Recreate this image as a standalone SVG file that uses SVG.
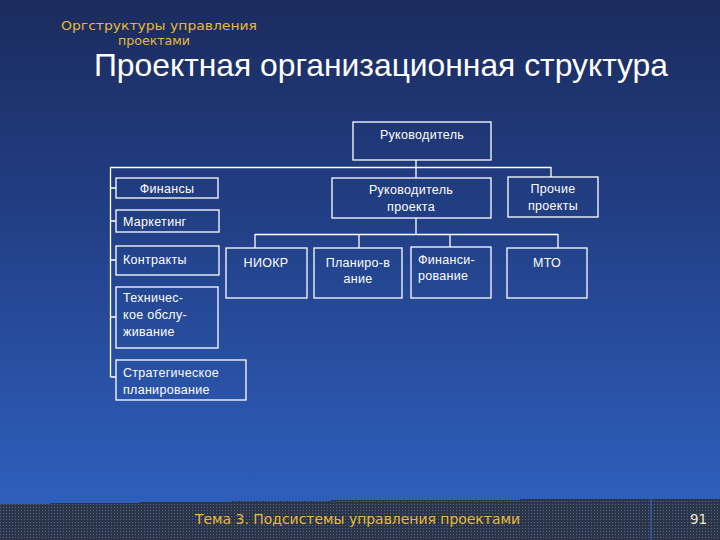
<svg xmlns="http://www.w3.org/2000/svg" width="720" height="540" viewBox="0 0 720 540">
<defs>
<linearGradient id="bg" x1="0" y1="0" x2="0" y2="1">
<stop offset="0" stop-color="#1b2c5e"/>
<stop offset="0.4" stop-color="#223f85"/>
<stop offset="1" stop-color="#3063c4"/>
</linearGradient>
<pattern id="dots" width="3" height="3" patternUnits="userSpaceOnUse">
<rect width="3" height="3" fill="#2d3446"/>
<rect width="1" height="1" fill="#4a6aa8"/>
</pattern>
<style>
.box{fill:none;stroke:#ffffff;stroke-width:1.3}
.ln{fill:none;stroke:#ffffff;stroke-width:1.3}
.t{font-family:"Liberation Sans",Arial,sans-serif;font-size:12.5px;fill:#ffffff;letter-spacing:0.3px}
.c{text-anchor:middle}
.gold{font-family:"DejaVu Sans",sans-serif;font-size:13.5px;fill:#e8b838}
.sub{font-family:"DejaVu Sans",sans-serif;font-size:12.5px;fill:#e8b838}
</style>
</defs>
<rect width="720" height="540" fill="url(#bg)"/>
<path d="M0 504 H50 V503 H140 V502 H230 V501 H330 V500 H520 V499 H720 V540 H0 Z" fill="url(#dots)"/>
<line x1="651" y1="499" x2="651" y2="540" stroke="#3a68c0" stroke-width="1"/>
<text class="sub" x="61" y="30" textLength="196" lengthAdjust="spacingAndGlyphs">Оргструктуры управления</text>
<text class="sub" x="118" y="45" textLength="72" lengthAdjust="spacingAndGlyphs">проектами</text>
<text x="94" y="76" font-family="Liberation Sans, Arial, sans-serif" font-size="30.5" fill="#ffffff" textLength="574" lengthAdjust="spacingAndGlyphs">Проектная организационная структура</text>
<text class="gold" x="195" y="524" textLength="325" lengthAdjust="spacingAndGlyphs">Тема 3. Подсистемы управления проектами</text>
<text x="690" y="524" font-family="DejaVu Sans, sans-serif" font-size="13.5" fill="#f0e6c8">91</text>
<g id="connectors">
<path class="ln" d="M416 160 V178 M110.5 167.5 H551 V177 M110.5 167 V377 M110.5 188 H116 M110.5 221 H116 M110.5 260 H116 M110.5 317 H116 M110.5 377 H116"/>
<path class="ln" d="M416 218 V234 M255 234.5 H558 M255 234 V248 M359 234 V248 M450 234 V247 M558 234 V248"/>
</g>
<g id="n-head"><rect class="box" x="353" y="122" width="138" height="38"/><text class="t c" x="422" y="139">Руководитель</text></g>
<g id="n-fin"><rect class="box" x="116" y="178" width="102" height="20"/><text class="t c" x="167" y="193">Финансы</text></g>
<g id="n-mark"><rect class="box" x="116" y="210" width="103" height="22"/><text class="t" x="123" y="226">Маркетинг</text></g>
<g id="n-contr"><rect class="box" x="116" y="246" width="103" height="29"/><text class="t" x="123" y="264">Контракты</text></g>
<g id="n-tech"><rect class="box" x="116" y="287" width="102" height="61"/><text class="t" x="123" y="302">Техничес-</text><text class="t" x="123" y="319">кое обслу-</text><text class="t" x="123" y="336">живание</text></g>
<g id="n-strat"><rect class="box" x="116" y="360" width="130" height="40"/><text class="t" x="123" y="377">Стратегическое</text><text class="t" x="123" y="394">планирование</text></g>
<g id="n-pm"><rect class="box" x="332" y="178" width="159" height="40"/><text class="t c" x="411" y="194">Руководитель</text><text class="t c" x="411" y="211">проекта</text></g>
<g id="n-other"><rect class="box" x="508" y="177" width="90" height="40"/><text class="t c" x="553" y="193">Прочие</text><text class="t c" x="553" y="210">проекты</text></g>
<g id="n-niokr"><rect class="box" x="226" y="248" width="81" height="50"/><text class="t c" x="266" y="267">НИОКР</text></g>
<g id="n-plan"><rect class="box" x="314" y="248" width="88" height="50"/><text class="t c" x="358" y="267">Планиро-в</text><text class="t c" x="358" y="283">ание</text></g>
<g id="n-finans"><rect class="box" x="411" y="247" width="80" height="51"/><text class="t" x="418" y="264">Финанси-</text><text class="t" x="418" y="280">рование</text></g>
<g id="n-mto"><rect class="box" x="507" y="248" width="80" height="50"/><text class="t c" x="547" y="267">МТО</text></g>
</svg>
